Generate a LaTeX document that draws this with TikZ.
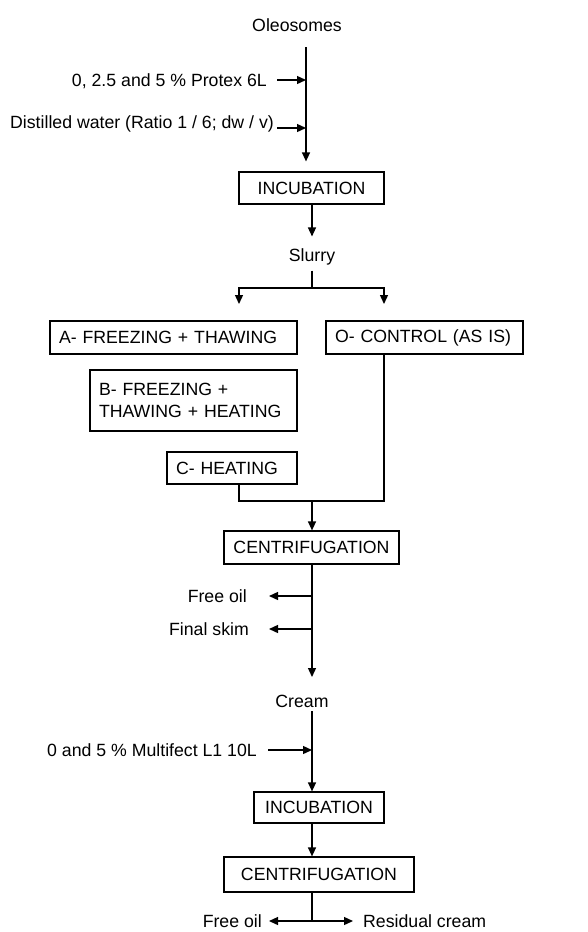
\documentclass[tikz,border=0pt]{standalone}
\usepackage{fontspec}
\setmainfont{Liberation Sans}
\usetikzlibrary{arrows.meta}

\begin{document}
\begin{tikzpicture}[
    x=1pt, y=-1pt,
    >={Triangle[length=9pt, width=8pt]},
    every node/.style={font=\fontsize{17.7}{22}\selectfont},
    txt/.style={inner sep=0pt, text height=12.7pt, text depth=0pt},
    box/.style={draw, line width=1.2pt, inner xsep=9pt, inner ysep=0pt},
    stepbox/.style={box, align=center},
    optbox/.style={box, align=left},
    line/.style={line width=1.3pt},
    arr/.style={->, line width=1.3pt},
]
\useasboundingbox (0,0) rectangle (588,932);

\node[txt] (oleo) at (297,25) {Oleosomes};
\coordinate (feed) at (306,47);
\node[txt, anchor=east] (protex) at (267,80) {0, 2.5 and 5 \% Protex 6L};
\node[txt, anchor=east] (water) at (274,122) {Distilled water (Ratio 1 / 6; dw / v)};
\node[stepbox, minimum width=145pt, minimum height=32pt] (inc1) at (311.5,188) {INCUBATION};
\node[txt] (slurry) at (312,255) {Slurry};
\coordinate (fork) at (312,288);
\coordinate (forkL) at (239,304);
\coordinate (forkR) at (384,304);

\node[optbox, text width=229pt, minimum height=33pt] (freezeA) at (173.5,337.5) {A- FREEZING + THAWING};
\node[optbox, text width=179pt, minimum height=33pt] (ctrl) at (424.5,337.5) {O- CONTROL (AS IS)};
\node[optbox, text width=189pt, minimum height=61pt] (freezeB) at (193.5,400.5) {B- FREEZING +\\THAWING + HEATING};
\node[optbox, text width=112pt, minimum height=32pt] (heatC) at (232,468) {C- HEATING};
\coordinate (join) at (312,501);
\node[stepbox, minimum width=175pt, minimum height=33pt] (cent1) at (311.5,547.5) {CENTRIFUGATION};

\coordinate (c1out) at (312,677);
\node[txt, anchor=east] (oil1) at (247,596) {Free oil};
\node[txt, anchor=east] (skim) at (249,629) {Final skim};
\node[txt] (cream) at (302,701) {Cream};
\coordinate (c2in) at (312,711);
\node[txt, anchor=east] (enz2) at (257,750) {0 and 5 \% Multifect L1 10L};
\node[stepbox, minimum width=130pt, minimum height=31pt] (inc2) at (319,807.5) {INCUBATION};
\node[stepbox, minimum width=190pt, minimum height=35pt] (cent2) at (319,874.5) {CENTRIFUGATION};
\coordinate (c3) at (312,921);
\node[txt, anchor=east] (oil2) at (262,921) {Free oil};
\node[txt, anchor=west] (resid) at (363,921) {Residual cream};

\draw[arr, shorten >=10pt] (feed) -- (feed |- inc1.north);
\draw[arr] ([xshift=10pt]protex.east) -- (protex.east -| feed);
\draw[arr] ([xshift=3pt, yshift=-6pt]water.east) -- ([yshift=-6pt]water.east -| feed);
\draw[arr, shorten >=12pt] (inc1.south -| fork) -- (slurry.north);
\draw[line] ([yshift=-9pt]slurry.south) -- (fork);
\draw[arr] (fork) -| (forkL);
\draw[arr] (fork) -| (forkR);
\draw[line] (heatC.south -| forkL) |- (join) -| (ctrl.south -| forkR);
\draw[arr] (join) -- (join |- cent1.north);
\draw[arr] (cent1.south -| c1out) -- (c1out);
\draw[arr] (oil1.east -| c1out) -- ([xshift=22pt]oil1.east);
\draw[arr] (skim.east -| c1out) -- ([xshift=20pt]skim.east);
\draw[arr] (c2in) -- (c2in |- inc2.north);
\draw[arr] ([xshift=11pt]enz2.east) -- (enz2.east -| c2in);
\draw[arr] (inc2.south -| c2in) -- (cent2.north -| c2in);
\draw[line] (cent2.south -| c3) -- (c3);
\draw[arr] (c3) -- ([xshift=7pt]oil2.east);
\draw[arr] (c3) -- ([xshift=-10pt]resid.west);
\end{tikzpicture}
\end{document}
